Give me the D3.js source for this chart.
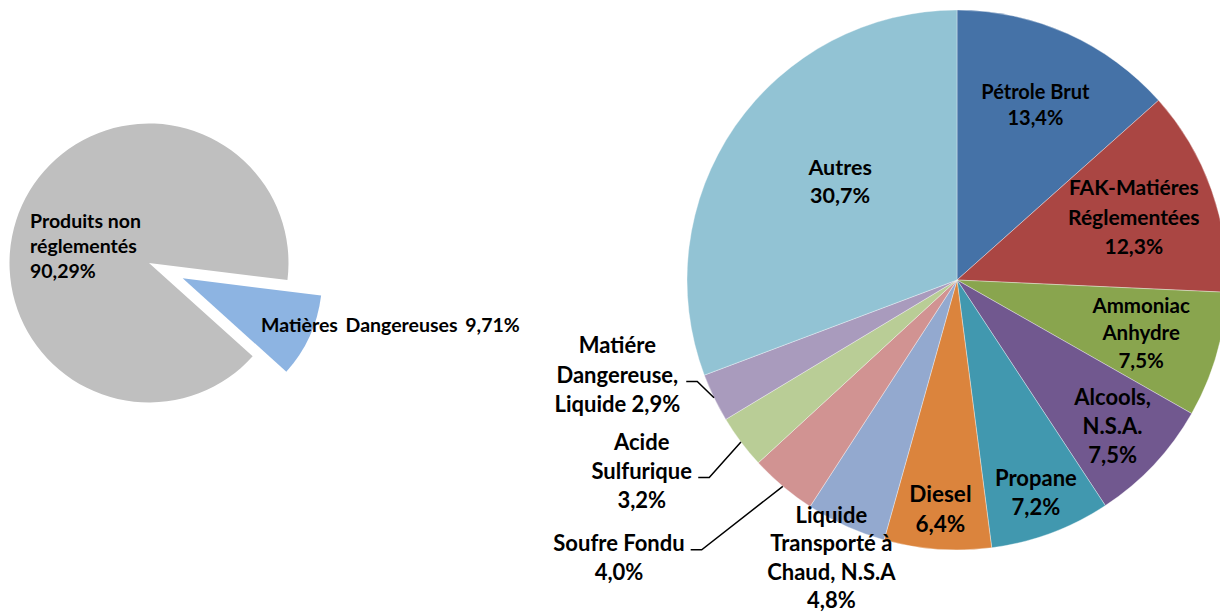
<!DOCTYPE html>
<html>
<head>
<meta charset="utf-8">
<title>Matières dangereuses</title>
<script src="https://cdnjs.cloudflare.com/ajax/libs/d3/7.8.5/d3.min.js"></script>
<style>
  body { margin: 0; background: #fff; }
  svg { display: block; }
  text { font-family: Lato, "Open Sans", sans-serif; font-weight: bold; fill: #000; }
</style>
</head>
<body>
<svg id="chart" width="1220" height="613"></svg>
<script>
// left pie
const shareNames = ['Produits non\nréglementés', 'Matières Dangereuses'];
const shareValues = [90.29, 9.71];
const shareColors = ['#bfbfbf', '#8db4e2'];

// right pie, clockwise from 12 o'clock
const categories = [
  'Pétrole Brut', 'FAK-Matiéres\nRéglementées', 'Ammoniac\nAnhydre', 'Alcools,\nN.S.A.',
  'Propane', 'Diesel', 'Liquide\nTransporté à\nChaud, N.S.A', 'Soufre Fondu',
  'Acide\nSulfurique', 'Matiére\nDangereuse,\nLiquide', 'Autres'
];
const values = [13.4, 12.3, 7.5, 7.5, 7.2, 6.4, 4.8, 4.0, 3.2, 2.9, 30.7];
const colors = ['#4572a7', '#aa4643', '#89a54e', '#71588f', '#4198af', '#db843d',
                '#93a9cf', '#d19392', '#b9cd96', '#a99bbd', '#92c3d4'];

// label layout: r = distance from centre as share of radius, ang = override angle (deg)
const labelLayout = [
  { r: 0.71, fs: 20, lh: 26 },
  { r: 0.695, fs: 21, lh: 29.5 },
  { r: 0.71, fs: 20.5, lh: 27.5 },
  { r: 0.79, fs: 22, lh: 29 },
  { r: 0.84, fs: 22, lh: 29 },
  { r: 0.85, fs: 22.5, lh: 30 },
  { r: 1.13, fs: 22, lh: 28.5 },
  { r: 1.62, ang: 230.6, fs: 22, lh: 29, leader: 0 },
  { r: 1.365, ang: 238.8, fs: 22, lh: 29, leader: 1 },
  { r: 1.306, ang: 254.4, fs: 22, lh: 29.5, leader: 1, inline: true },
  { r: 0.565, ang: 310, fs: 21.5, lh: 28 }
];

const svg = d3.select('#chart');
const pct = (v, d) => v.toFixed(d).replace('.', ',') + '%';
const rad = d => d * Math.PI / 180;
const polar = (cx, cy, r, a) => [cx + r * Math.sin(a), cy - r * Math.cos(a)];

// ---------- left pie ----------
const L = { cx: 149, cy: 263, r: 139.5, explode: 37 };
const leftPie = d3.pie().sort(null).startAngle(rad(132)).endAngle(rad(132) + 2 * Math.PI)(shareValues);
const leftArc = d3.arc().innerRadius(0).outerRadius(L.r);

const lg = svg.append('g').attr('transform', `translate(${L.cx},${L.cy})`);
lg.selectAll('path')
  .data(leftPie)
  .enter()
  .append('path')
  .attr('d', leftArc)
  .attr('fill', (d, i) => shareColors[i])
  .attr('transform', (d, i) => {
    if (i !== 1) return null;
    const [x, y] = polar(0, 0, L.explode, (d.startAngle + d.endAngle) / 2);
    return `translate(${x},${y})`;
  });

const lt = svg.append('text').attr('x', L.cx - 119).attr('y', L.cy - 35).style('font-size', '19.5px');
shareNames[0].split('\n').concat([pct(shareValues[0], 2)]).forEach((s, i) => {
  lt.append('tspan').attr('x', L.cx - 119).attr('dy', i ? 25 : 0).text(s);
});
svg.append('text')
  .attr('x', L.cx + 112).attr('y', L.cy + 69)
  .style('font-size', '19.5px').style('word-spacing', '3px')
  .text(shareNames[1] + ' ' + pct(shareValues[1], 2));

// ---------- right pie ----------
const R = { cx: 957, cy: 280, r: 270 };
const pie = d3.pie().sort(null)(values);
const arc = d3.arc().innerRadius(0).outerRadius(R.r);

const rg = svg.append('g').attr('transform', `translate(${R.cx},${R.cy})`);
rg.selectAll('path')
  .data(pie)
  .enter()
  .append('path')
  .attr('d', arc)
  .attr('fill', (d, i) => colors[i])
  .attr('stroke', '#fff')
  .attr('stroke-opacity', 0.5)
  .attr('stroke-width', 0.7);

pie.forEach((d, i) => {
  const lay = labelLayout[i];
  const mid = (d.startAngle + d.endAngle) / 2;
  const a = lay.ang != null ? rad(lay.ang) : mid;
  const [x, y] = polar(R.cx, R.cy, lay.r * R.r, a);
  const lines = categories[i].split('\n');
  if (lay.inline) lines[lines.length - 1] += ' ' + pct(values[i], 1);
  else lines.push(pct(values[i], 1));

  const y0 = y - (lines.length - 1) * lay.lh / 2 + 0.35 * lay.fs;
  const t = svg.append('text')
    .attr('text-anchor', 'middle')
    .attr('y', y0)
    .style('font-size', lay.fs + 'px');
  lines.forEach((s, j) => {
    t.append('tspan').attr('x', x).attr('dy', j ? lay.lh : 0).text(s);
  });

  if (lay.leader != null) {
    const bb = t.node().getBBox();
    const ly = y0 + lay.leader * lay.lh - 1;
    const x1 = bb.x + bb.width + 6;
    const [ex, ey] = polar(R.cx, R.cy, R.r, mid);
    svg.append('path')
      .attr('d', d3.line()([[x1, ly], [x1 + 11, ly], [ex, ey]]))
      .attr('fill', 'none')
      .attr('stroke', '#000')
      .attr('stroke-width', 1.5);
  }
});
</script>
</body>
</html>
